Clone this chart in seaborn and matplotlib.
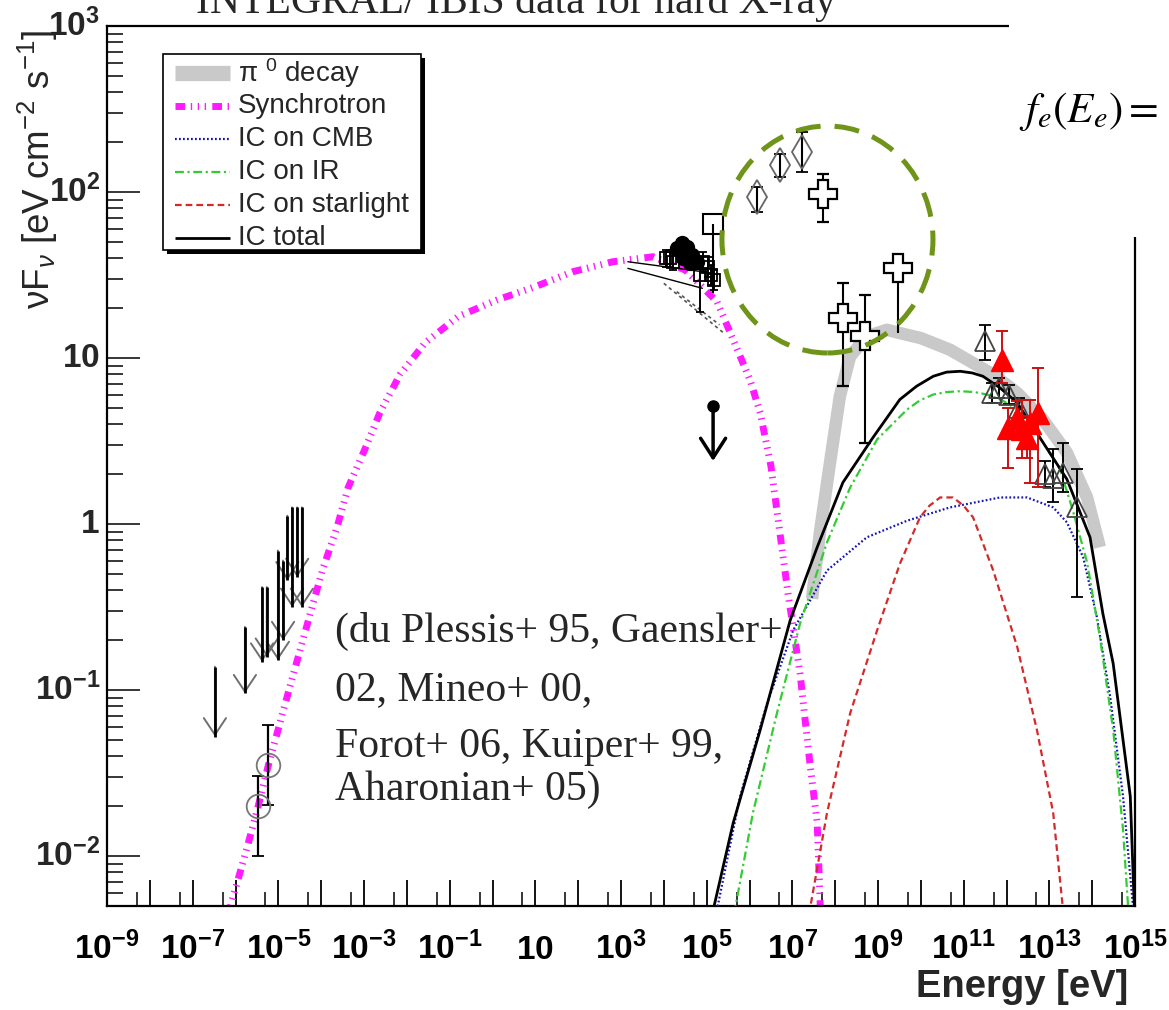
import numpy as np
import pandas as pd
import matplotlib
matplotlib.use("Agg")
import matplotlib.pyplot as plt
import seaborn as sns
from matplotlib.patches import Ellipse, Rectangle
from matplotlib.lines import Line2D
from matplotlib.ticker import FixedLocator, FixedFormatter, NullFormatter
from matplotlib.transforms import IdentityTransform

# ---------------- data: log10(E [eV]) and log10(nuF_nu [eV cm^-2 s^-1]) ----------------
sync_logE = [-6.17, -5.73, -5.47, -5.24, -4.73, -4.19, -3.96, -3.63, -3.37, -2.98, -2.63, -2.16,
             -1.58, -0.80, 0.11, 1.00, 1.88, 2.81, 3.75, 4.50, 5.24, 5.62, 6.01, 6.25, 6.50,
             6.90, 7.18, 7.41, 7.58, 7.66]
sync_logY = [-2.35, -1.95, -1.70, -1.46, -0.98, -0.48, -0.27, -0.02, 0.22, 0.45, 0.67, 0.90,
             1.09, 1.25, 1.35, 1.43, 1.52, 1.58, 1.61, 1.53, 1.34, 1.11, 0.87, 0.67, 0.35,
             -0.42, -0.90, -1.44, -1.80, -2.35]

pi0_logE = [7.46, 7.65, 7.88, 8.11, 8.35, 8.74, 9.21, 9.51, 10.00, 10.68, 11.69, 12.25, 12.85, 13.41, 13.88, 14.18]
pi0_logY = [-0.45, -0.04, 0.37, 0.77, 1.01, 1.13, 1.17, 1.15, 1.12, 1.05, 0.90, 0.79, 0.63, 0.43, 0.16, -0.14]

ictot_logE = [5.13, 5.62, 6.25, 6.95, 7.58, 8.18, 8.88, 9.51, 9.90, 10.29, 10.60, 10.92, 11.20, 11.45,
              11.85, 12.25, 12.78, 13.41, 13.95, 14.25, 14.49, 14.89, 14.99]
ictot_logY = [-2.35, -1.80, -1.24, -0.58, -0.14, 0.25, 0.52, 0.75, 0.83, 0.89, 0.915, 0.92, 0.91, 0.89,
              0.82, 0.73, 0.52, 0.27, -0.08, -0.54, -0.84, -1.64, -2.35]

icir_logE = [5.64, 6.08, 6.64, 7.18, 7.81, 8.35, 8.98, 9.68, 9.98, 10.29, 10.60, 10.92, 11.25, 11.55,
             11.90, 12.25, 12.78, 13.25, 13.55, 13.88, 14.18, 14.49, 14.72, 14.85]
icir_logY = [-2.35, -1.74, -1.14, -0.60, -0.11, 0.22, 0.51, 0.69, 0.745, 0.78, 0.795, 0.80, 0.795, 0.78,
             0.745, 0.69, 0.52, 0.33, 0.08, -0.23, -0.68, -1.24, -1.84, -2.35]

iccmb_logE = [5.22, 5.78, 6.41, 7.02, 7.81, 8.74, 9.68, 10.68, 11.85, 12.48, 13.09, 13.41, 13.79, 14.11, 14.42, 14.72, 14.97]
iccmb_logY = [-2.35, -1.64, -1.08, -0.64, -0.28, -0.08, 0.02, 0.10, 0.16, 0.16, 0.10, 0.01, -0.20, -0.56, -1.04, -1.64, -2.35]

icstar_logE = [7.39, 7.81, 8.35, 8.98, 9.51, 9.98, 10.20, 10.45, 10.75, 11.00, 11.22, 11.69, 12.25, 12.71, 13.09, 13.33]
icstar_logY = [-2.35, -1.74, -1.14, -0.64, -0.24, 0.04, 0.11, 0.16, 0.16, 0.11, 0.04, -0.28, -0.74, -1.24, -1.74, -2.35]

# radio points (open circles)
radio_logE = [-5.47, -5.24]
radio_logY = [-1.70, -1.45]
radio_lo = [-2.00, -1.69]
radio_hi = [-1.52, -1.21]

# low-energy upper limits: position, top value, arrow tip
ul_logE = [-6.48, -5.78, -5.38, -5.27, -5.01, -4.89, -4.68, -4.45, -4.56, -4.79]
ul_top = [-0.86, -0.62, -0.38, -0.38, -0.16, -0.22, 0.10, 0.10, 0.10, 0.05]
ul_tip = [-1.28, -1.02, -0.83, -0.80, -0.82, -0.70, -0.50, -0.50, -0.32, -0.34]

# X-ray cluster
xfill_logE = [4.30, 4.42, 4.55, 4.65, 4.78, 4.45, 4.60]
xfill_logY = [1.66, 1.69, 1.67, 1.62, 1.58, 1.60, 1.57]
xsq_logE = [4.05, 4.15, 4.22, 4.92, 5.02, 5.10, 5.18, 4.85]
xsq_logY = [1.60, 1.60, 1.58, 1.58, 1.55, 1.50, 1.47, 1.50]
xsq_lo = [1.55, 1.55, 1.53, 1.52, 1.49, 1.44, 1.41, 1.28]
xsq_hi = [1.65, 1.65, 1.63, 1.64, 1.61, 1.56, 1.53, 1.61]
bowtie_logE = [[3.16, 4.90], [3.16, 4.90]]
bowtie_logY = [[1.58, 1.52], [1.54, 1.42]]
xdash_logE = [[4.00, 5.40], [4.30, 5.30]]
xdash_logY = [[1.45, 1.15], [1.40, 1.20]]

# INTEGRAL square and upper-limit dot
sq_logE, sq_logY, sq_lo = 5.15, 1.81, 1.39
dot_logE, dot_logY, dot_tip = 5.15, 0.71, 0.38

# diamonds
dia_logE = [6.18, 6.71, 7.23]
dia_logY = [1.97, 2.16, 2.24]
dia_lo = [1.88, 2.09, 2.12]
dia_hi = [2.03, 2.23, 2.36]

# open crosses (EGRET)
crs_logE = [7.72, 8.18, 8.70]
crs_logY = [1.99, 1.24, 1.13]
crs_lo = [1.82, 0.83, 0.49]
crs_hi = [2.11, 1.45, 1.38]
crs_ul_logE, crs_ul_logY, crs_ul_tip = 9.47, 1.54, 1.15

# TeV open triangles
otri_logE = [11.50, 11.65, 11.82, 12.05, 12.30, 12.90, 13.09, 13.32, 13.65]
otri_logY = [1.10, 0.79, 0.82, 0.78, 0.70, 0.30, 0.28, 0.31, 0.10]
otri_lo = [0.99, 0.73, 0.76, 0.72, 0.64, 0.22, 0.13, 0.19, -0.44]
otri_hi = [1.20, 0.85, 0.88, 0.84, 0.76, 0.38, 0.45, 0.49, 0.33]

# TeV red triangles
rtri_logE = [11.90, 12.04, 12.25, 12.36, 12.48, 12.55, 12.74]
rtri_logY = [0.99, 0.58, 0.64, 0.57, 0.52, 0.61, 0.67]
rtri_lo = [0.85, 0.34, 0.54, 0.40, 0.40, 0.25, 0.22]
rtri_hi = [1.16, 0.70, 0.74, 0.75, 0.65, 0.75, 0.94]

# axis ticks
xtick_exp = list(range(-9, 16))
ytick_exp = [-2, -1, 0, 1, 2, 3]

legend_labels = [r"π $^{0}$ decay", "Synchrotron", "IC on CMB", "IC on IR", "IC on starlight", "IC total"]
refs_lines = ["(du Plessis+ 95, Gaensler+", "02, Mineo+ 00,", "Forot+ 06, Kuiper+ 99,", "Aharonian+ 05)"]
circle_logE, circle_logY = 7.82, 1.714

# ---------------- style ----------------
sns.set_theme(style="white")
SANS = "Liberation Sans"
plt.rcParams["font.family"] = [SANS, "DejaVu Sans"]
plt.rcParams["mathtext.fontset"] = "custom"
plt.rcParams["mathtext.rm"] = SANS
plt.rcParams["mathtext.it"] = SANS + ":italic"
plt.rcParams["mathtext.bf"] = SANS + ":bold"

W, H = 1169, 1010
fig = plt.figure(figsize=(W / 100, H / 100), dpi=100)
fig.patch.set_facecolor("white")


def F(x, y):
    return x / W, 1 - y / H


ax = fig.add_axes([107 / W, 1 - 906 / H, (1135 - 107) / W, (906 - 26) / H])
ax.set_facecolor("white")
ax.set_xscale("log")
ax.set_yscale("log")
ax.set_xlim(1e-9, 1e15)
ax.set_ylim(5e-3, 1e3)

P = lambda v: 10.0 ** np.asarray(v, dtype=float)

MAG = "#ff1aff"
SYNC_DASH = (1.4, 0.8, 0.2, 0.8, 0.2, 0.8, 0.2, 0.9)
IR_DASH = (4.0, 1.6, 1.0, 1.6)
STYLE = {
    "pi0": dict(color="#c9c9c9", lw=9, dashes=None),
    "sync": dict(color=MAG, lw=5, dashes=SYNC_DASH),
    "cmb": dict(color="#1414b4", lw=1.6, dashes=(0.8, 1.0)),
    "ir": dict(color="#33cc33", lw=1.6, dashes=IR_DASH),
    "star": dict(color="#d42a2a", lw=1.6, dashes=(3.0, 1.8)),
    "tot": dict(color="black", lw=2.0, dashes=None),
}


def curve(le, ly, key, z):
    st = STYLE[key]
    df = pd.DataFrame({"E": P(le), "Y": P(ly)})
    sns.lineplot(data=df, x="E", y="Y", ax=ax, color=st["color"], lw=st["lw"],
                 sort=False, estimator=None, zorder=z)
    ln = ax.lines[-1]
    if st["dashes"] is not None:
        ln.set_dashes(st["dashes"])
    ln.set_solid_capstyle("butt")
    ln.set_solid_joinstyle("round")
    return ln


curve(pi0_logE, pi0_logY, "pi0", 1)
curve(sync_logE, sync_logY, "sync", 2)
curve(iccmb_logE, iccmb_logY, "cmb", 3)
curve(icir_logE, icir_logY, "ir", 3)
curve(icstar_logE, icstar_logY, "star", 3)
curve(ictot_logE, ictot_logY, "tot", 3)
ax.set_xlabel("")
ax.set_ylabel("")

# ---------------- data points ----------------
def ebar(le, ly, lo, hi, **kw):
    y = P(ly)
    ax.errorbar(P(le), y, yerr=[y - P(lo), P(hi) - y], **kw)


ebar(radio_logE, radio_logY, radio_lo, radio_hi, fmt="o", ms=17, mfc="none", mec="#777777",
     mew=1.3, ecolor="black", elinewidth=1.6, capsize=4, capthick=1.6, zorder=5)

ax.vlines(P(ul_logE), P(ul_tip), P(ul_top), color="black", lw=2.0, zorder=6)
for e, t, b in zip(ul_logE, ul_top, ul_tip):
    ax.annotate("", xy=(10 ** e, 10 ** b), xytext=(10 ** e, 10 ** t),
                arrowprops=dict(arrowstyle="->,head_length=0.6,head_width=0.4", color="#6f6f6f",
                                lw=1.4, shrinkA=0, shrinkB=0, mutation_scale=20), zorder=5)

for le, ly in zip(bowtie_logE, bowtie_logY):
    ax.plot(P(le), P(ly), color="black", lw=1.0, zorder=5)
for le, ly in zip(xdash_logE, xdash_logY):
    ax.plot(P(le), P(ly), color="#555555", lw=1.2, ls=(0, (2, 2)), zorder=5)
ebar(xsq_logE, xsq_logY, xsq_lo, xsq_hi, fmt="s", ms=8, mfc="none", mec="black", mew=1.3,
     ecolor="black", elinewidth=1.4, capsize=3, zorder=6)
ax.plot(P(xfill_logE), P(xfill_logY), "o", color="black", ms=10, zorder=7)

ax.errorbar([10 ** sq_logE], [10 ** sq_logY], yerr=[[10 ** sq_logY - 10 ** sq_lo], [0]], fmt="s",
            ms=15, mfc="none", mec="black", mew=1.5, ecolor="black", elinewidth=1.5, zorder=6)
ax.plot([10 ** dot_logE], [10 ** dot_logY], "o", color="black", ms=8, zorder=7)
ax.annotate("", xy=(10 ** dot_logE, 10 ** dot_tip), xytext=(10 ** dot_logE, 10 ** dot_logY),
            arrowprops=dict(arrowstyle="->,head_length=0.7,head_width=0.45", color="black",
                            lw=2.5, shrinkA=0, shrinkB=0, mutation_scale=20), zorder=7)

ebar(dia_logE, dia_logY, dia_lo, dia_hi, fmt="d", ms=17, mfc="none", mec="#666666", mew=1.3,
     ecolor="black", elinewidth=1.5, capsize=4, capthick=2, zorder=6)

ebar(crs_logE, crs_logY, crs_lo, crs_hi, fmt="P", ms=20, mfc="white", mec="black", mew=1.6,
     ecolor="black", elinewidth=1.5, capsize=4, capthick=1.6, zorder=6)
ax.vlines([10 ** crs_ul_logE], [10 ** crs_ul_tip], [10 ** crs_ul_logY], color="black", lw=1.5, zorder=6)
ax.plot([10 ** crs_ul_logE], [10 ** crs_ul_logY], "P", ms=20, mfc="white", mec="black", mew=1.6, zorder=7)

ebar(otri_logE, otri_logY, otri_lo, otri_hi, fmt="^", ms=15, mfc="none", mec="#444444", mew=1.3,
     ecolor="black", elinewidth=1.4, capsize=4, capthick=1.6, zorder=5)
ebar(rtri_logE, rtri_logY, rtri_lo, rtri_hi, fmt="^", ms=16, mfc="#ff0000", mec="#ff0000",
     ecolor="#cc1111", elinewidth=1.4, capsize=4, capthick=1.4, zorder=6)

# ---------------- axes cosmetics ----------------
xt_labels = []
for e in xtick_exp:
    if e % 2 == 0:
        xt_labels.append("")
    elif e == 1:
        xt_labels.append(r"$\mathbf{10}$")
    else:
        xt_labels.append(r"$\mathbf{10^{%d}}$" % e)
ax.xaxis.set_major_locator(FixedLocator(P(xtick_exp)))
ax.xaxis.set_major_formatter(FixedFormatter(xt_labels))
ax.xaxis.set_minor_locator(FixedLocator(5 * P(np.arange(-10, 15))))
ax.xaxis.set_minor_formatter(NullFormatter())

yt_labels = []
for e in ytick_exp:
    if e == 0:
        yt_labels.append(r"$\mathbf{1}$")
    elif e == 1:
        yt_labels.append(r"$\mathbf{10}$")
    else:
        yt_labels.append(r"$\mathbf{10^{%d}}$" % e)
ax.yaxis.set_major_locator(FixedLocator(P(ytick_exp)))
ax.yaxis.set_major_formatter(FixedFormatter(yt_labels))
ax.yaxis.set_minor_locator(FixedLocator([m * 10.0 ** d for d in range(-3, 3) for m in range(2, 10)]))
ax.yaxis.set_minor_formatter(NullFormatter())

ax.tick_params(axis="x", which="major", direction="in", length=19, width=1.3, labelsize=24,
               pad=38, bottom=True, top=False, colors="black")
ax.tick_params(axis="x", which="minor", direction="in", length=10, width=1.3, bottom=True, top=False)
ax.tick_params(axis="y", which="major", direction="in", length=24, width=1.3, labelsize=24,
               pad=5, left=True, right=False)
ax.tick_params(axis="y", which="minor", direction="in", length=11.5, width=1.3, left=True, right=False)
for lbl in ax.get_xticklabels():
    lbl.set_verticalalignment("baseline")
for lbl in ax.get_yticklabels():
    lbl.set_verticalalignment("center")
for s in ax.spines.values():
    s.set_color("black")
    s.set_linewidth(1.6)

# green dashed circle (annotation)
cx, cy = ax.transData.transform((10 ** circle_logE, 10 ** circle_logY))
ell = Ellipse((cx, cy), 211, 227, transform=IdentityTransform(), fill=False, edgecolor="#6e9419",
              lw=3.6, linestyle=(0, (5.0, 2.8)), zorder=20)
fig.add_artist(ell)

# white panel in the upper-right corner with the formula
fig.add_artist(Rectangle(F(1009, 237), (W - 1009) / W, 237 / H, transform=fig.transFigure,
                         facecolor="white", edgecolor="none", zorder=10))
fig.text(*F(1019, 122), r"$f_e(E_e) =$", fontsize=31, math_fontfamily="stix", color="black",
         ha="left", va="baseline", zorder=11)

# title (partly cut at the top)
fig.text(*F(516, 13), "INTEGRAL/ IBIS data for hard X-ray", family="Liberation Serif", fontsize=30,
         ha="center", va="baseline", zorder=11)

# axis labels
fig.text(*F(38, 30), r"νF$_{\nu}$ [eV cm$^{-2}$ s$^{-1}$]", family="Liberation Sans", fontsize=26.5,
         rotation=90, ha="center", va="top")
fig.text(*F(1128, 987), "Energy [eV]", fontsize=27.5, weight="bold", ha="right", va="center")

# reference text
ref_y = [642, 700, 757, 800]
for txt, yy in zip(refs_lines, ref_y):
    fig.text(*F(335, yy), txt, family="Liberation Serif", fontsize=30, ha="left", va="baseline",
             zorder=11)

# ---------------- legend (drawn like the ROOT legend box) ----------------
fig.add_artist(Rectangle(F(167, 254), (421 - 163) / W, (250 - 54) / H, transform=fig.transFigure,
                         facecolor="black", edgecolor="none", zorder=12))
fig.add_artist(Rectangle(F(163, 250), (421 - 163) / W, (250 - 54) / H, transform=fig.transFigure,
                         facecolor="white", edgecolor="black", lw=1.2, zorder=13))
row_y = [73, 106, 139, 172, 205, 238]
keys = ["pi0", "sync", "cmb", "ir", "star", "tot"]
for key, lab, yy in zip(keys, legend_labels, row_y):
    st = STYLE[key]
    x0, y0 = F(175, yy)
    x1, _ = F(230, yy)
    lw = 11 if key == "pi0" else st["lw"]
    ln = Line2D([x0, x1], [y0, y0], transform=fig.transFigure, color=st["color"], lw=lw,
                solid_capstyle="butt", zorder=14)
    if st["dashes"] is not None:
        ln.set_dashes(st["dashes"])
    fig.add_artist(ln)
    fig.text(*F(238, yy), lab, fontsize=20, ha="left", va="center", zorder=14)

fig.savefig("out.png", dpi=100, facecolor="white")
